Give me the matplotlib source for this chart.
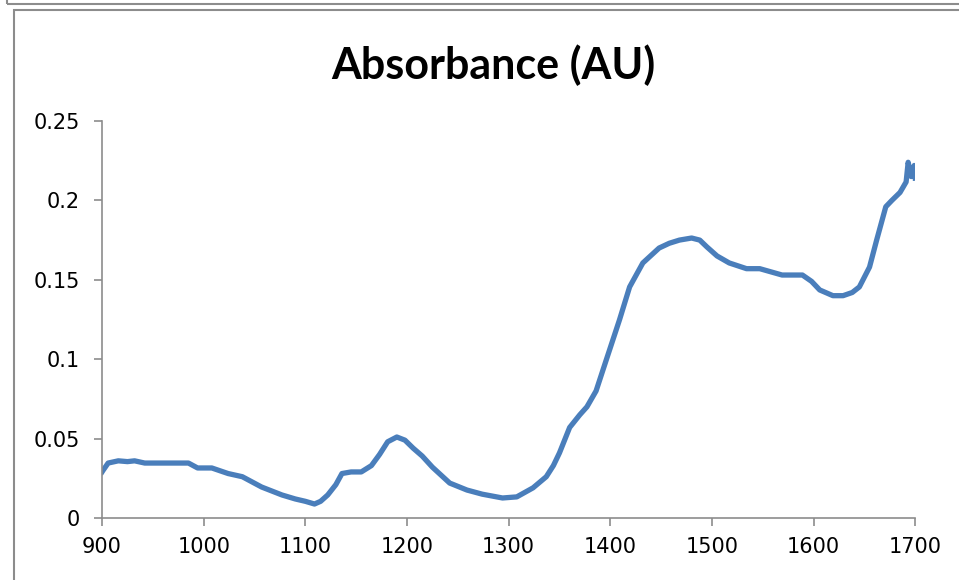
import matplotlib.pyplot as plt
from matplotlib.patches import Rectangle

# longueurs d'onde (nm) et absorbance
wavelength = [900, 901, 906, 916, 925, 932, 942, 960, 985, 994, 1008, 1024, 1038,
              1057, 1077, 1090, 1100, 1109, 1115, 1122, 1130, 1136, 1145, 1155,
              1165, 1173, 1181, 1190, 1198, 1206, 1215, 1225, 1242, 1259, 1274,
              1294, 1308, 1324, 1337, 1344, 1350, 1360, 1370, 1377, 1386, 1396,
              1409, 1419, 1432, 1448, 1458, 1468, 1480, 1488, 1495, 1505, 1517,
              1534, 1547, 1558, 1569, 1589, 1598, 1606, 1619, 1629, 1638, 1645,
              1655, 1662, 1671, 1677, 1685, 1691, 1693, 1696, 1699, 1700]
absorbance = [0.029, 0.030, 0.0346, 0.036, 0.0355, 0.036, 0.0346, 0.0346, 0.0346,
              0.0315, 0.0315, 0.028, 0.026, 0.0195, 0.0145, 0.012, 0.0105, 0.0088,
              0.0105, 0.0145, 0.021, 0.028, 0.029, 0.029, 0.033, 0.040, 0.048,
              0.051, 0.049, 0.044, 0.039, 0.032, 0.022, 0.0176, 0.015, 0.0126,
              0.0133, 0.019, 0.026, 0.033, 0.041, 0.057, 0.065, 0.070, 0.080,
              0.0995, 0.1247, 0.1455, 0.1606, 0.170, 0.173, 0.175, 0.1763, 0.175,
              0.1707, 0.165, 0.1606, 0.157, 0.157, 0.155, 0.153, 0.153, 0.149,
              0.1436, 0.140, 0.140, 0.142, 0.1455, 0.158, 0.175, 0.196, 0.200,
              0.205, 0.2116, 0.224, 0.215, 0.222, 0.214]

xticks = [900, 1000, 1100, 1200, 1300, 1400, 1500, 1600, 1700]
yticks = [0, 0.05, 0.1, 0.15, 0.2, 0.25]
yticklabels = ['0', '0.05', '0.1', '0.15', '0.2', '0.25']

fig = plt.figure(figsize=(9.59, 5.80), dpi=100)
ax = fig.add_axes([0.1064, 0.1069, 0.848, 0.6845])

# cadres gris du graphique Excel
fig.patches.append(Rectangle((7 / 959, 1 - 4 / 580), 1, 1, transform=fig.transFigure,
                             fill=False, edgecolor='#8c8c8c', lw=1.5))
fig.patches.append(Rectangle((14 / 959, -1), 1, 1 + (1 - 10 / 580),
                             transform=fig.transFigure, fill=False,
                             edgecolor='#8c8c8c', lw=1.5))

ax.plot(wavelength, absorbance, color='#4a7ebb', lw=3.8, solid_joinstyle='round')

ax.set_xlim(900, 1700)
ax.set_ylim(0, 0.25)
ax.set_xticks(xticks)
ax.set_yticks(yticks)
ax.set_yticklabels(yticklabels)
ax.spines['top'].set_visible(False)
ax.spines['right'].set_visible(False)
for s in ['left', 'bottom']:
    ax.spines[s].set_color('#8c8c8c')
    ax.spines[s].set_linewidth(1.2)
ax.tick_params(colors='#8c8c8c', labelcolor='black', length=6, width=1.2,
               labelsize=15)
ax.tick_params(axis='x', pad=8)
ax.tick_params(axis='y', pad=10)

fig.text(0.514, 0.888, 'Absorbance (AU)', ha='center', va='center',
         fontsize=31, fontweight='bold', family='Lato')

fig.savefig('out.png', dpi=100)
